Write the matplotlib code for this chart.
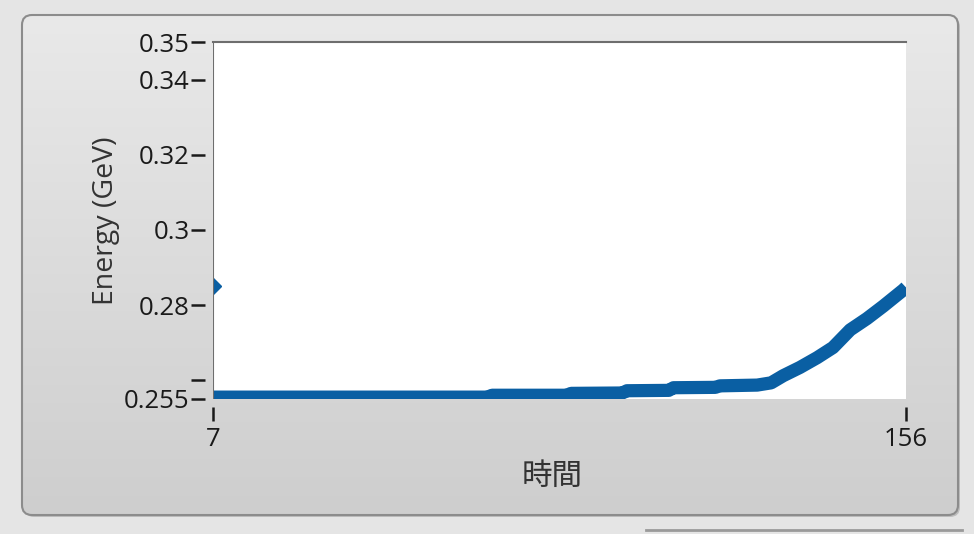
import numpy as np
import matplotlib.pyplot as plt
from matplotlib.patches import FancyBboxPatch
from matplotlib.colors import LinearSegmentedColormap

plt.rcParams['font.family'] = ['Open Sans', 'Noto Sans CJK JP', 'DejaVu Sans']

# data
time = [7, 30, 66, 67, 83, 84, 95, 96, 105, 106, 115, 116, 124,
        127, 129.6, 133.2, 136.9, 140.3, 144, 147.6, 151.1, 155.4, 156]
energy = [0.2555, 0.2555, 0.2555, 0.2560, 0.2560, 0.2565,
          0.2566, 0.2572, 0.2573, 0.2580, 0.2581, 0.2585, 0.2587,
          0.2593, 0.2612, 0.2634, 0.2660, 0.2687, 0.2734, 0.2764,
          0.2797, 0.2840, 0.2847]
cursor_x = [7]
cursor_y = [0.285]

yticks = [0.255, 0.26, 0.28, 0.3, 0.32, 0.34, 0.35]
ytick_labels = ['0.255', '', '0.28', '0.3', '0.32', '0.34', '0.35']
xticks = [7, 156]

W, H = 974, 534
fig = plt.figure(figsize=(W / 100, H / 100), dpi=100)
fig.patch.set_facecolor('#e5e5e5')

# panel with a vertical gradient and rounded border
bg = fig.add_axes([0, 0, 1, 1], zorder=0)
bg.set_xlim(0, W)
bg.set_ylim(H, 0)
bg.axis('off')
shadow = FancyBboxPatch((24, 17), 936, 500, boxstyle='round,pad=0,rounding_size=10',
                        facecolor='#bdbdbd', edgecolor='none', zorder=0.5)
bg.add_patch(shadow)
panel = FancyBboxPatch((22, 15), 936, 500, boxstyle='round,pad=0,rounding_size=10',
                       facecolor='none', edgecolor='#8c8c8c', linewidth=1.5, zorder=3)
bg.add_patch(panel)
grad = np.linspace(0, 1, 256).reshape(-1, 1)
img = bg.imshow(grad, cmap=LinearSegmentedColormap.from_list('g', ['#e9e9e9', '#cecece']),
                extent=(22, 958, 515, 15), aspect='auto', zorder=1)
img.set_clip_path(panel)
bg.plot([646, 962], [530, 530], color='#9a9a9a', linewidth=2, zorder=2)

ax = fig.add_axes([213 / W, 1 - 399 / H, (906 - 213) / W, (399 - 42) / H], zorder=2)
ax.set_facecolor('white')
ax.plot(time, energy, color='#0a5fa3', linewidth=9.5, solid_capstyle='butt', clip_on=True)
ax.plot(cursor_x, cursor_y, marker='D', markersize=8, color='#0a5fa3', clip_on=True)

ax.set_xlim(7, 156)
ax.set_ylim(0.255, 0.35)
ax.set_yticks(yticks)
ax.set_yticklabels(ytick_labels)
ax.set_xticks(xticks)
ax.set_xticklabels([str(t) for t in xticks])

# ticks sit a few pixels away from the plot edge
ax.spines['left'].set_position(('outward', 6))
ax.spines['bottom'].set_position(('outward', 6))
for side in ['right', 'bottom', 'left']:
    ax.spines[side].set_color('none')
ax.spines['top'].set_color('#6e6e6e')
ax.spines['top'].set_linewidth(1.5)
ax.axvline(7, color='#6e6e6e', linewidth=1.5, zorder=3)

ax.tick_params(axis='y', direction='out', length=10, width=1.8, pad=1,
               labelsize=18.5, colors='#1a1a1a')
ax.tick_params(axis='x', direction='out', length=10, width=1.8, pad=4,
               labelsize=18.5, colors='#1a1a1a')

ax.set_ylabel('Energy (GeV)', fontsize=20.5, color='#333333', labelpad=3)
ax.set_xlabel('時間', fontsize=22, color='#333333')
ax.xaxis.set_label_coords(0.489, -0.175)

fig.savefig('out.png', dpi=100, facecolor=fig.get_facecolor())
